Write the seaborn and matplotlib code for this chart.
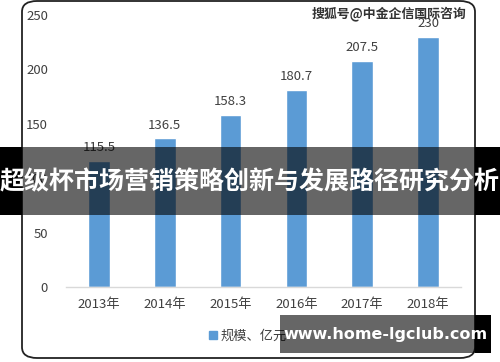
import matplotlib
matplotlib.use("Agg")
import matplotlib.pyplot as plt
import matplotlib.patches as mpatches
import pandas as pd
import seaborn as sns

# ── Data ──────────────────────────────────────────────────────────────────────
years = ["2013年", "2014年", "2015年", "2016年", "2017年", "2018年"]
scale = [115.5, 136.5, 158.3, 180.7, 207.5, 230]
value_labels = ["115.5", "136.5", "158.3", "180.7", "207.5", "230"]
y_ticks = [0, 50, 100, 150, 200, 250]
legend_label = "规模、亿元"
title_text = "超级杯市场营销策略创新与发展路径研究分析"
watermark = "搜狐号@中金企信国际咨询"
site_text = "www.home-lgclub.com"

BAR = "#5B9BD5"
TXT = "#404040"
W, H = 500, 362

sns.set_style("white")
plt.rcParams["font.family"] = ["Noto Sans CJK SC", "DejaVu Sans"]

df = pd.DataFrame({"year": years, "scale": scale})

fig = plt.figure(figsize=(W / 100, H / 100), dpi=100)
fig.patch.set_facecolor("white")


def px(x, y):
    """pixel (from top-left) -> figure fraction"""
    return x / W, 1 - y / H


# rounded chart frame
fx0, fy0 = px(22, 358)
fx1, fy1 = px(475, 1)
frame = mpatches.FancyBboxPatch(
    (fx0, fy0), fx1 - fx0, fy1 - fy0,
    boxstyle="round,pad=0,rounding_size=0.03",
    transform=fig.transFigure, facecolor="white", edgecolor="#222222",
    linewidth=1.3, zorder=-5,
)
fig.patches.append(frame)

ax = fig.add_axes([66 / W, 1 - 287 / H, 395 / W, 272 / H])
ax.set_zorder(1)
ax.patch.set_alpha(0)
sns.barplot(data=df, x="year", y="scale", color=BAR, width=0.33, ax=ax,
            saturation=1)
ax.set_xlim(-0.5, 5.5)
ax.set_ylim(0, 250)
ax.set_yticks(y_ticks)
ax.set_yticklabels([str(t) for t in y_ticks])
ax.set_xlabel("")
ax.set_ylabel("")
for s in ["top", "right", "left"]:
    ax.spines[s].set_visible(False)
ax.spines["bottom"].set_color("#d9d9d9")
ax.spines["bottom"].set_linewidth(1.0)
ax.tick_params(axis="y", length=0, pad=13, labelsize=9.5, labelcolor=TXT)
ax.tick_params(axis="x", length=0, pad=8, labelsize=9.5, labelcolor=TXT)

for i, (v, lab) in enumerate(zip(scale, value_labels)):
    ax.annotate(lab, xy=(i, v), xytext=(0, 5), textcoords="offset points",
                ha="center", va="bottom", fontsize=9.5, color=TXT)

# legend
handle = mpatches.Patch(color=BAR, label=legend_label)
leg = fig.legend(handles=[handle], loc="center", bbox_to_anchor=px(248, 336),
                 frameon=False, fontsize=9.5, handlelength=0.6,
                 handleheight=0.6, handletextpad=0.3, labelcolor=TXT)
leg.set_zorder(2)

# watermark
wx, wy = px(466, 14)
fig.text(wx, wy, watermark, ha="right", va="center", fontsize=9.3,
         fontweight="bold", color="#333333", zorder=3)


def overlay(x0, y0, x1, y1, inner_right=475):
    # dimmed part over the chart image, solid black outside it
    l = max(x0, 22)
    r = min(x1, inner_right)
    bx, by = px(l, y1)
    fig.patches.append(mpatches.Rectangle(
        (bx, by), (r - l) / W, (y1 - y0) / H, transform=fig.transFigure,
        facecolor="black", alpha=0.6, edgecolor="none", zorder=10))
    for a, b in [(x0, 22), (inner_right, x1)]:
        if b > a:
            bx, by = px(a, y1)
            fig.patches.append(mpatches.Rectangle(
                (bx, by), (b - a) / W, (y1 - y0) / H,
                transform=fig.transFigure, facecolor="black",
                edgecolor="none", zorder=10))


overlay(0, 147, 500, 215)
overlay(280, 315, 491, 353)

tx, ty = px(250, 182)
fig.text(tx, ty, title_text, ha="center", va="center", fontsize=18,
         fontweight="bold", color="white", zorder=11)

sx, sy = px(386, 334)
fig.text(sx, sy, site_text, ha="center", va="center", fontsize=11.5,
         fontweight="bold", color="white", zorder=11,
         family=["DejaVu Sans"])

fig.savefig("out.png", dpi=100)
